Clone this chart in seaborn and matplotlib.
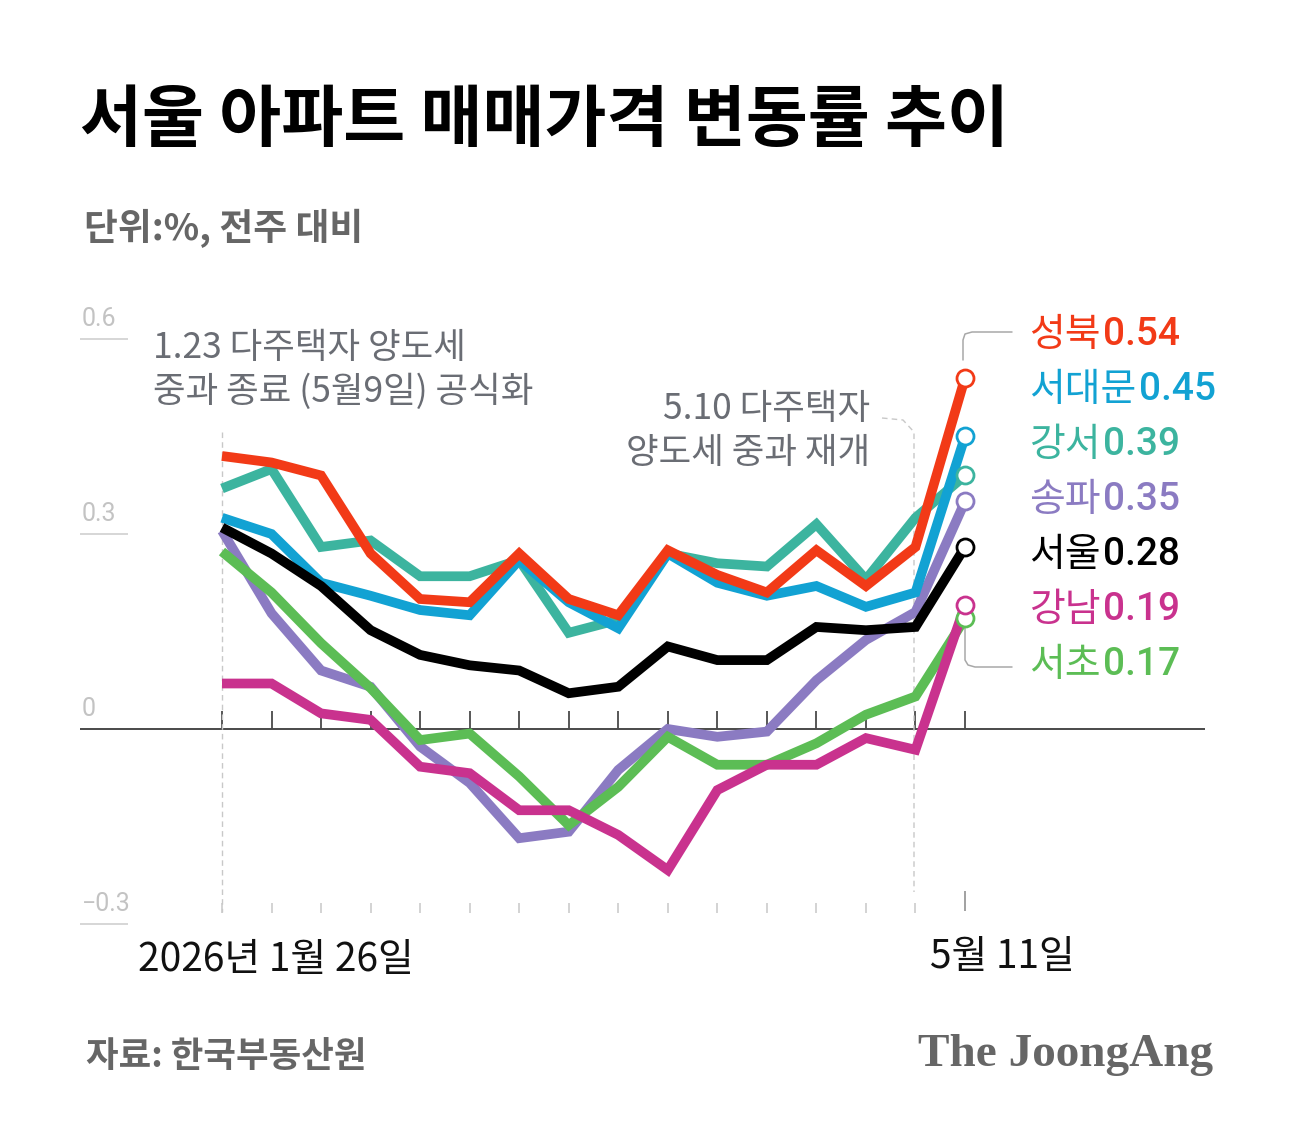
import numpy as np
import pandas as pd
import matplotlib
matplotlib.use("Agg")
import matplotlib.pyplot as plt
import seaborn as sns

# ---------------- data ----------------
weeks = ["1/26", "2/2", "2/9", "2/16", "2/23", "3/2", "3/9", "3/16", "3/23",
         "3/30", "4/6", "4/13", "4/20", "4/27", "5/4", "5/11"]
regions = ["성북", "서대문", "강서", "송파", "서울", "강남", "서초"]
seongbuk = [0.42, 0.41, 0.39, 0.27, 0.20, 0.195, 0.27, 0.20, 0.175, 0.275, 0.237, 0.21, 0.275, 0.22, 0.28, 0.54]
seodaemun = [0.325, 0.30, 0.225, 0.205, 0.183, 0.175, 0.26, 0.195, 0.155, 0.27, 0.225, 0.205, 0.22, 0.188, 0.21, 0.45]
gangseo = [0.37, 0.40, 0.28, 0.29, 0.235, 0.235, 0.26, 0.148, 0.168, 0.27, 0.255, 0.25, 0.315, 0.23, 0.325, 0.39]
songpa = [0.305, 0.178, 0.09, 0.065, -0.027, -0.083, -0.168, -0.158, -0.063, 0.0, -0.012, -0.004, 0.075, 0.137, 0.18, 0.35]
seoul = [0.31, 0.27, 0.22, 0.152, 0.114, 0.098, 0.09, 0.055, 0.065, 0.127, 0.106, 0.106, 0.157, 0.152, 0.157, 0.28]
gangnam = [0.07, 0.07, 0.024, 0.014, -0.058, -0.068, -0.125, -0.125, -0.163, -0.217, -0.094, -0.055, -0.055, -0.014, -0.032, 0.19]
seocho = [0.273, 0.21, 0.132, 0.063, -0.017, -0.007, -0.073, -0.148, -0.089, -0.012, -0.055, -0.055, -0.022, 0.022, 0.05, 0.17]
series = [seongbuk, seodaemun, gangseo, songpa, seoul, gangnam, seocho]
colors = ["#f23a17", "#12a2d3", "#3cb49f", "#8b7bc2", "#000000", "#c9328e", "#5cbd55"]
yticks = [0.6, 0.3, 0, -0.3]
ytick_labels = ["0.6", "0.3", "0", "−0.3"]
x_first_label = "2026년 1월 26일"
x_last_label = "5월 11일"

rows = []
for reg, vals in zip(regions, series):
    for i, (w, v) in enumerate(zip(weeks, vals)):
        rows.append({"pos": i, "week": w, "region": reg, "value": v})
df = pd.DataFrame(rows)
palette = dict(zip(regions, colors))

# ---------------- style ----------------
sns.set_theme(style="white")
plt.rcParams["font.family"] = ["Noto Sans CJK KR", "DejaVu Sans"]

W, H = 1289, 1134
fig = plt.figure(figsize=(W / 100, H / 100), dpi=100)
fig.patch.set_facecolor("white")

# axes: pixel x 80..1205, y 300..960
ax = fig.add_axes([80 / W, 1 - 960 / H, 1125 / W, 660 / H])
step = (965 - 222) / 15.0
ax.set_xlim((80 - 222) / step, (1205 - 222) / step)
ax.set_ylim((729 - 960) / 650.0, (729 - 300) / 650.0)
ax.axis("off")

def px2x(px):
    return (px - 222) / step

def py2y(py):
    return (729 - py) / 650.0

n = len(weeks)
xs = np.arange(n)

# y-axis labels and short gridlines
for v, lab in zip(yticks, ytick_labels):
    ax.text(px2x(82), v + 0.03, lab, color="#c3c3c3", fontsize=18,
            ha="left", va="center", family=["Roboto", "DejaVu Sans"])
    if v != 0:
        ax.plot([px2x(80), px2x(128)], [v, v], color="#cfcfcf", lw=1.2,
                solid_capstyle="butt", clip_on=False)

# zero line and ticks
ax.axhline(0, color="#4a4a4a", lw=1.4, zorder=1)
ax.vlines(xs, 0, 0.027, color="#4a4a4a", lw=1.3, zorder=1)
# bottom ticks
ax.vlines(xs[:-1], -0.283, -0.268, color="#c8c8c8", lw=1.1, zorder=1)
ax.vlines(xs[-1:], -0.28, -0.25, color="#9a9a9a", lw=1.3, zorder=1)

# dashed event lines
ax.plot([0, 0], [py2y(432), py2y(912)], color="#c8c8c8", lw=1.0, ls=(0, (4, 3)), zorder=1)
ax.plot([px2x(882), px2x(903), px2x(914), px2x(914)],
        [py2y(418), py2y(420), py2y(432), py2y(892)],
        color="#c8c8c8", lw=1.0, ls=(0, (4, 3)), zorder=1)

# lines
draw_order = ["송파", "서초", "강남", "강서", "서대문", "서울", "성북"]
sns.lineplot(data=df, x="pos", y="value", hue="region", hue_order=draw_order,
             palette=palette, lw=7, legend=False, ax=ax, zorder=3,
             solid_joinstyle="miter", solid_capstyle="butt")

last = df[df["pos"] == n - 1]
for reg in draw_order:
    v = last.loc[last["region"] == reg, "value"].values[0]
    ax.scatter([n - 1], [v], s=150, facecolor="white", edgecolor=palette[reg],
               linewidth=2.0, zorder=6, clip_on=False)

# right labels
label_py = [335, 390, 445, 500, 555, 610, 665]
for reg, vals, col, py in zip(regions, series, colors, label_py):
    t = ax.text(px2x(1029), py2y(py), reg, color=col, fontsize=28,
                ha="left", va="center", clip_on=False)
    ax.annotate(f"{vals[-1]:.2f}", xy=(1, 0.5), xycoords=t, xytext=(2, 0),
                textcoords="offset points", color=col, fontsize=28,
                fontweight="medium", ha="left", va="center",
                family=["Roboto", "DejaVu Sans"])

# bracket connectors
ax.plot([px2x(1012), px2x(972), px2x(965), px2x(963), px2x(963)],
        [py2y(332), py2y(332), py2y(334), py2y(340), py2y(360)],
        color="#a8a8a8", lw=1.1, clip_on=False)
ax.plot([px2x(965), px2x(965), px2x(968), px2x(975), px2x(1012)],
        [py2y(628), py2y(660), py2y(665), py2y(667), py2y(667)],
        color="#a8a8a8", lw=1.1, clip_on=False)

# annotations
ax.text(px2x(153), py2y(370), "1.23 다주택자 양도세\n중과 종료 (5월9일) 공식화",
        color="#6a6d74", fontsize=25.5, ha="left", va="center", linespacing=1.3)
ax.text(px2x(870), py2y(431), "5.10 다주택자\n양도세 중과 재개",
        color="#6a6d74", fontsize=25.5, ha="right", va="center", linespacing=1.3,
        multialignment="right")

# x labels
ax.text(px2x(138), py2y(960), x_first_label, color="#111111", fontsize=28,
        ha="left", va="center", clip_on=False)
ax.text(px2x(930), py2y(957), x_last_label, color="#111111", fontsize=28,
        ha="left", va="center", clip_on=False)

# titles
fig.text(80 / W, 1 - 122 / H, "서울 아파트 매매가격 변동률 추이", fontsize=48.5,
         fontweight="black", color="#000000", ha="left", va="center")
fig.text(84 / W, 1 - 228 / H, "단위:%, 전주 대비", fontsize=26.5,
         fontweight="bold", color="#666666", ha="left", va="center")

# footer
fig.text(86 / W, 1 - 1057 / H, "자료: 한국부동산원", fontsize=25.5,
         fontweight="bold", color="#666666", ha="left", va="center")
fig.text(1213 / W, 1 - 1055 / H, "The JoongAng", fontsize=34,
         fontweight="bold", color="#666666", ha="right", va="center",
         family=["Liberation Serif", "DejaVu Serif"])

fig.savefig("out.png", dpi=100, facecolor="white")
